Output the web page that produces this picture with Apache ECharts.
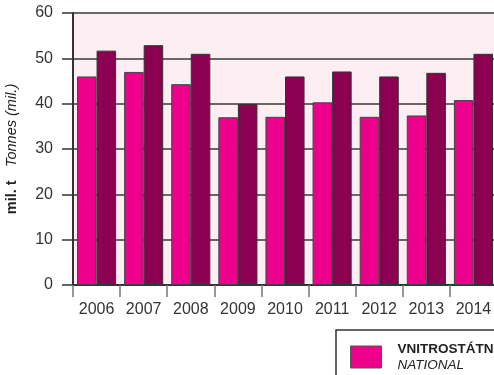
<!DOCTYPE html>
<html><head><meta charset="utf-8">
<script src="https://cdn.jsdelivr.net/npm/echarts@6/dist/echarts.min.js"></script>
<style>html,body{margin:0;padding:0;background:#fff}#c{width:494px;height:375px}</style>
</head><body><div id="c"></div>
<script>
const years = ['2006','2007','2008','2009','2010','2011','2012','2013','2014'];
const national = [46.0, 47.0, 44.3, 37.0, 37.1, 40.3, 37.1, 37.4, 40.8];
const international = [51.7, 52.9, 51.0, 39.9, 46.0, 47.1, 46.0, 46.8, 51.0];
const yTicks = [0, 10, 20, 30, 40, 50, 60];

const chart = echarts.init(document.getElementById('c'), null, {renderer: 'canvas'});
const font = 'Liberation Sans, Arial, sans-serif';
chart.setOption({
  animation: false,
  grid: {left: 73, top: 13, width: 424, height: 272, show: true, backgroundColor: '#fdeef4', borderWidth: 0,
         containLabel: false, outerBoundsMode: 'none'},
  legend: {
    left: 336, top: 330, orient: 'horizontal',
    padding: [12, 40, 12, 14],
    borderColor: '#333', borderWidth: 1.5,
    itemWidth: 31, itemHeight: 22, itemGap: 40,
    data: [{name: 'national', icon: 'rect'}],
    itemStyle: {borderColor: '#555', borderWidth: 1},
    formatter: function () { return '{b|VNITROSTÁTNÍ}\n{i|NATIONAL}'; },
    textStyle: {
      rich: {
        b: {fontFamily: font, fontWeight: 'bold', fontSize: 13.5, color: '#222', lineHeight: 16, padding: [0, 0, 0, 11]},
        i: {fontFamily: font, fontStyle: 'italic', fontSize: 13.5, color: '#222', lineHeight: 16, padding: [0, 0, 0, 11]}
      }
    }
  },
  xAxis: {
    type: 'category', data: years,
    axisLine: {lineStyle: {color: '#333', width: 2}},
    axisTick: {show: true, length: 12, lineStyle: {color: '#777', width: 1.5}},
    axisLabel: {interval: 0, fontFamily: font, fontSize: 16, color: '#333', margin: 17}
  },
  yAxis: {
    type: 'value', min: yTicks[0], max: yTicks[yTicks.length - 1], interval: 10,
    name: '{b|mil. t}    {i|Tonnes (mil.)}',
    nameLocation: 'middle', nameGap: 54, nameRotate: 90,
    nameTextStyle: {
      rich: {
        b: {fontFamily: font, fontWeight: 'bold', fontSize: 14.5, color: '#222'},
        i: {fontFamily: font, fontStyle: 'italic', fontSize: 14.5, color: '#222'}
      }
    },
    axisLine: {show: true, lineStyle: {color: '#333', width: 2}},
    axisTick: {show: true, length: 11, lineStyle: {color: '#333', width: 1.5}},
    axisLabel: {fontFamily: font, fontSize: 16, color: '#333', margin: 20},
    splitLine: {show: true, lineStyle: {color: '#3a3a3a', width: 1.5}}
  },
  series: [
    {name: 'national', type: 'bar', data: national, barGap: '0%', barCategoryGap: '17%',
     itemStyle: {color: '#ec008c', borderColor: '#444', borderWidth: 1}},
    {name: 'international', type: 'bar', data: international, barGap: '0%', barCategoryGap: '17%',
     itemStyle: {color: '#8b0050', borderColor: '#333', borderWidth: 1}}
  ]
});
</script></body></html>
